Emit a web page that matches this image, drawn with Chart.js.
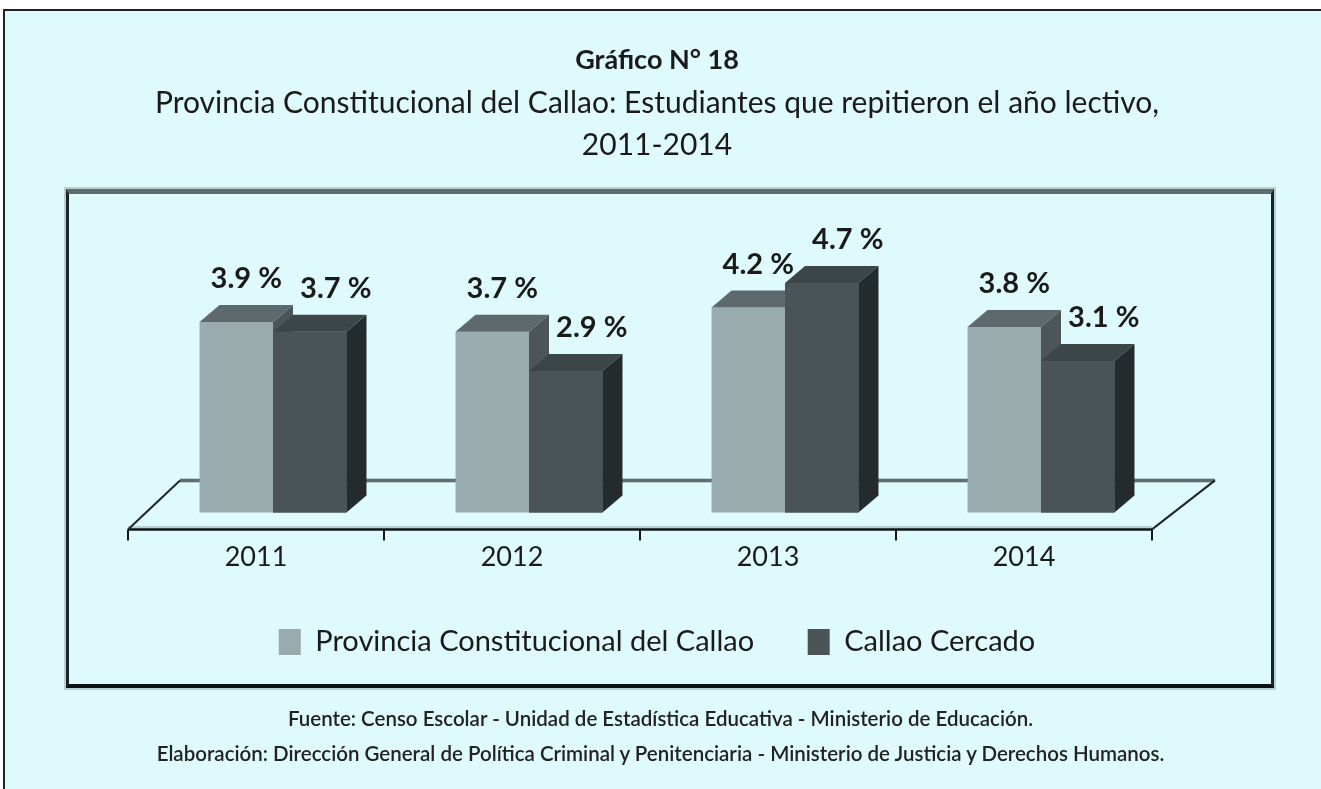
<!DOCTYPE html>
<html>
<head>
<meta charset="utf-8">
<script src="https://cdn.jsdelivr.net/npm/chart.js@4.4.1/dist/chart.umd.min.js"></script>
<style>
  html, body { margin: 0; padding: 0; background: #ffffff; width: 1321px; height: 789px; overflow: hidden; }
  #frame { position: absolute; left: 3px; top: 9px; width: 1400px; height: 900px;
           background: #DFFAFD; border-left: 2px solid #222; border-top: 2px solid #222; }
  #inner { position: absolute; left: 66px; top: 189px; width: 1202px; height: 490px;
           border-top: 5px solid #5E6C6E; border-left: 3px solid #1C2426;
           border-right: 3px solid #1C2426; border-bottom: 4px solid #0B1214;
           box-shadow: 0 0 0 2px #B8CFD2; }
  #chart { position: absolute; left: 0; top: 0; z-index: 2; }
  .foot { position: absolute; left: 0; width: 1321px; text-align: center; z-index: 3; line-height: 24px;
          font-family: Lato, "Open Sans", sans-serif; font-weight: 600; font-size: 20.5px; color: #222; }
</style>
</head>
<body>
<div id="frame"></div>
<div id="inner"></div>
<canvas id="chart" width="1321" height="789"></canvas>
<div class="foot" style="top:706px">Fuente: Censo Escolar - Unidad de Estadística Educativa - Ministerio de Educación.</div>
<div class="foot" style="top:741px">Elaboración: Dirección General de Política Criminal y Penitenciaria - Ministerio de Justicia y Derechos Humanos.</div>
<script>
// ---- data ----
const years = ['2011', '2012', '2013', '2014'];
const provinciaValues = [3.9, 3.7, 4.2, 3.8];
const cercadoValues = [3.7, 2.9, 4.7, 3.1];
const seriesNames = ['Provincia Constitucional del Callao', 'Callao Cercado'];
const titleText = 'Gráfico N° 18';
const subtitleLines = ['Provincia Constitucional del Callao: Estudiantes que repitieron el año lectivo,', '2011-2014'];

const FONT = 'Lato, "Open Sans", sans-serif';
const DX = 20, DY = 17;
const faces = [
  { top: '#5D696C', side: '#4C5659', labelDx: 10 },
  { top: '#3C4547', side: '#232B2D', labelDx: 26 }
];

function poly(ctx, pts, color) {
  ctx.beginPath();
  ctx.moveTo(pts[0][0], pts[0][1]);
  for (let i = 1; i < pts.length; i++) ctx.lineTo(pts[i][0], pts[i][1]);
  ctx.closePath();
  ctx.fillStyle = color;
  ctx.fill();
}

function draw3d(ctx, el, base, f) {
  const p = el.getProps(['x', 'y', 'width'], true);
  const l = p.x - p.width / 2, r = p.x + p.width / 2, t = p.y;
  poly(ctx, [[l, t], [r, t], [r + DX, t - DY], [l + DX, t - DY]], f.top);
  poly(ctx, [[r, t], [r + DX, t - DY], [r + DX, base - DY], [r, base]], f.side);
}

const floorPlugin = {
  id: 'floor3d',
  beforeDatasetsDraw(chart) {
    const { ctx, chartArea } = chart;
    const xs = chart.scales.x, ys = chart.scales.y;
    const base = ys.getPixelForValue(0);
    const L = chartArea.left, R = chartArea.right;
    const fy = base + 17, by = base - 32;
    const fl = L - 17, fr = R - 17, bl = L + 35, br = R + 46;
    ctx.save();
    ctx.strokeStyle = '#B8CFD2'; ctx.lineWidth = 5;
    ctx.beginPath(); ctx.moveTo(bl, by); ctx.lineTo(br, by); ctx.stroke();
    ctx.strokeStyle = '#5F6D70'; ctx.lineWidth = 3;
    ctx.beginPath(); ctx.moveTo(bl, by); ctx.lineTo(br, by); ctx.stroke();
    ctx.strokeStyle = '#B8CFD2'; ctx.lineWidth = 3;
    ctx.beginPath(); ctx.moveTo(fl, fy - 2); ctx.lineTo(fr, fy - 2); ctx.stroke();
    ctx.strokeStyle = '#111719'; ctx.lineWidth = 2.5;
    ctx.beginPath(); ctx.moveTo(fl, fy); ctx.lineTo(fr, fy); ctx.stroke();
    ctx.strokeStyle = '#1E2628'; ctx.lineWidth = 2;
    ctx.beginPath(); ctx.moveTo(fl, fy); ctx.lineTo(bl, by); ctx.stroke();
    ctx.beginPath(); ctx.moveTo(fr, fy); ctx.lineTo(br, by); ctx.stroke();
    ctx.strokeStyle = '#111719'; ctx.lineWidth = 2;
    const n = years.length;
    for (let i = 0; i <= n; i++) {
      let x;
      if (i === 0) x = L; else if (i === n) x = R;
      else x = (xs.getPixelForValue(i - 1) + xs.getPixelForValue(i)) / 2;
      x -= 17;
      ctx.beginPath(); ctx.moveTo(x, fy); ctx.lineTo(x, fy + 11); ctx.stroke();
    }
    ctx.restore();
  },
  afterDatasetsDraw(chart) {
    const { ctx } = chart;
    const base = chart.scales.y.getPixelForValue(0);
    const m0 = chart.getDatasetMeta(0), m1 = chart.getDatasetMeta(1);
    ctx.save();
    for (let i = 0; i < years.length; i++) {
      draw3d(ctx, m0.data[i], base, faces[0]);
      m1.data[i].draw(ctx);
      draw3d(ctx, m1.data[i], base, faces[1]);
    }
    ctx.font = 'bold 29px ' + FONT;
    ctx.fillStyle = '#1a1a1a';
    ctx.textAlign = 'center';
    ctx.textBaseline = 'middle';
    chart.data.datasets.forEach((ds, di) => {
      const meta = chart.getDatasetMeta(di);
      meta.data.forEach((el, i) => {
        const p = el.getProps(['x', 'y'], true);
        ctx.fillText(ds.data[i].toFixed(1) + ' %', p.x + faces[di].labelDx, p.y - 43);
      });
    });
    ctx.restore();
  }
};

new Chart(document.getElementById('chart'), {
  type: 'bar',
  data: {
    labels: years,
    datasets: [
      { label: seriesNames[0], data: provinciaValues, backgroundColor: '#9AABAE', borderWidth: 0, clip: false },
      { label: seriesNames[1], data: cercadoValues, backgroundColor: '#4A5456', borderWidth: 0, clip: false }
    ]
  },
  options: {
    responsive: false,
    animation: false,
    devicePixelRatio: 1,
    categoryPercentage: 0.574,
    barPercentage: 1.0,
    layout: { padding: { left: 145, right: 152, top: 44, bottom: 122.6 } },
    scales: {
      x: {
        grid: { display: false, drawTicks: false },
        border: { display: false },
        ticks: { font: { family: FONT, size: 27 }, color: '#1a1a1a', padding: 29, labelOffset: -17 },
        afterFit: (s) => { s.height = 61.4; }
      },
      y: { display: false, min: 0, max: 5.5 }
    },
    plugins: {
      title: {
        display: true, text: titleText, color: '#1a1a1a',
        font: { family: FONT, size: 27, weight: 'bold', lineHeight: 1.2 },
        padding: { top: 0, bottom: 0 }
      },
      subtitle: {
        display: true, text: subtitleLines, color: '#1a1a1a',
        font: { family: FONT, size: 30, lineHeight: 42 / 30 },
        padding: { top: 5.6, bottom: 78 }
      },
      legend: {
        position: 'bottom',
        labels: {
          font: { family: FONT, size: 29 }, color: '#1a1a1a',
          boxWidth: 22, boxHeight: 26, padding: 53.6
        }
      },
      tooltip: { enabled: false }
    }
  },
  plugins: [floorPlugin]
});
</script>
</body>
</html>
